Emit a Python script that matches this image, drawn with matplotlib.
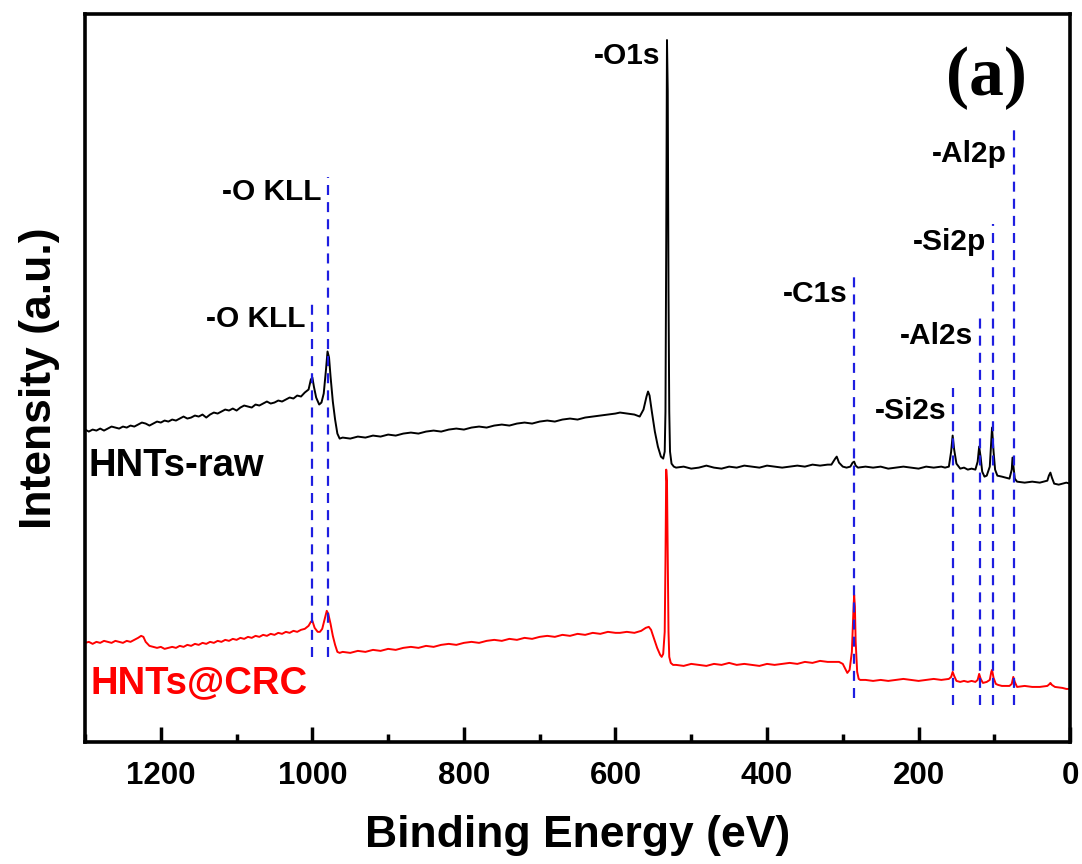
import matplotlib
matplotlib.use("Agg")
import matplotlib.pyplot as plt
from matplotlib.ticker import MultipleLocator

plt.rcParams['font.family'] = ['Liberation Sans', 'DejaVu Sans']
plt.rcParams['font.weight'] = 'bold'

# binding energy (eV) / intensity (a.u.)
raw_be = [1300, 1295, 1290, 1285, 1280, 1275, 1270, 1265, 1260, 1255, 1250, 1245,
          1240, 1235, 1230, 1225, 1220, 1215, 1210, 1205, 1200, 1195, 1190, 1185,
          1180, 1175, 1170, 1165, 1160, 1155, 1150, 1145, 1140, 1135, 1130, 1125,
          1120, 1115, 1110, 1105, 1100, 1095, 1090, 1085, 1080, 1075, 1070, 1065,
          1060, 1055, 1050, 1045, 1040, 1035, 1030, 1025, 1020, 1015, 1010, 1005,
          1002, 1000, 998, 995, 991, 988, 985, 982, 980, 978, 976, 973, 970, 967,
          964, 960, 950, 940, 930, 920, 910, 900, 890, 880, 870, 860, 850, 840,
          830, 820, 810, 800, 790, 780, 770, 760, 750, 740, 730, 720, 710, 700,
          690, 680, 670, 660, 650, 640, 630, 620, 610, 600, 594, 585, 575, 568,
          563, 559, 557, 555, 552, 548, 544, 540, 537, 535, 534, 533, 532, 531,
          530, 529, 528, 526, 523, 520, 510, 500, 490, 480, 470, 460, 450, 440,
          430, 420, 410, 400, 390, 380, 370, 360, 350, 340, 330, 320, 315, 310,
          308, 305, 300, 295, 290, 287, 285, 283, 280, 270, 260, 250, 240, 230,
          220, 210, 200, 190, 180, 170, 165, 160, 157, 155, 153, 150, 145, 140,
          135, 130, 125, 122, 120, 118, 116, 113, 110, 106, 104, 103, 101, 99,
          96, 90, 85, 80, 77, 76, 75, 73, 70, 60, 50, 40, 30, 28, 26, 24, 21,
          15, 10, 5, 0]
raw_int = [312, 310, 312, 311, 313, 311, 313, 315, 314, 313, 315, 314,
           316, 315, 317, 319, 318, 316, 318, 320, 319, 321, 320, 322,
           321, 323, 325, 323, 324, 326, 325, 327, 324, 327, 329, 328,
           330, 332, 331, 333, 331, 334, 336, 335, 334, 337, 336, 338,
           340, 338, 339, 341, 340, 342, 344, 343, 346, 345, 349, 352,
           362, 364, 355, 344, 337, 339, 348, 372, 390, 384, 365, 340, 322, 308,
           303, 304, 303, 305, 304, 306, 305, 307, 306, 308, 309, 308, 310, 311,
           310, 312, 313, 312, 314, 315, 314, 316, 317, 316, 318, 319, 318, 320,
           321, 320, 322, 323, 322, 324, 325, 326, 327, 328, 329, 328, 327, 325,
           332, 345, 350, 346, 330, 310, 295, 285, 283, 290, 330, 500, 701, 650,
           450, 330, 290, 278, 275, 274, 275, 273, 274, 276, 274, 273, 275, 274,
           276, 275, 274, 276, 275, 274, 275, 276, 275, 277, 276, 277, 277, 283,
           285, 279, 275, 274, 275, 279, 280, 276, 274, 275, 274, 275, 273, 274,
           275, 274, 273, 275, 274, 275, 274, 275, 290, 306, 292, 278, 273, 274,
           272, 273, 272, 280, 295, 284, 270, 265, 266, 275, 300, 314, 290, 272,
           266, 265, 264, 263, 272, 284, 277, 263, 260, 259, 260, 259, 261, 266, 269, 264, 258,
           257, 258, 259, 258]

crc_be = [1300, 1295, 1290, 1285, 1280, 1275, 1270, 1265, 1260, 1255, 1250, 1245,
          1240, 1235, 1230, 1226, 1223, 1220, 1215, 1210, 1205, 1200, 1195, 1190,
          1185, 1180, 1175, 1170, 1165, 1160, 1155, 1150, 1145, 1140, 1135, 1130,
          1125, 1120, 1115, 1110, 1105, 1100, 1095, 1090, 1085, 1080, 1075, 1070,
          1065, 1060, 1055, 1050, 1045, 1040, 1035, 1030, 1025, 1020, 1015, 1010,
          1005, 1002, 1000, 997, 993, 990, 987, 984, 981, 979, 976, 973, 970, 967,
          964, 960, 950, 940, 930, 920, 910, 900, 890, 880, 870, 860, 850, 840,
          830, 820, 810, 800, 790, 780, 770, 760, 750, 740, 730, 720, 710, 700,
          690, 680, 670, 660, 650, 640, 630, 620, 610, 600, 594, 585, 575, 566,
          560, 556, 553, 549, 545, 541, 539, 537, 535, 534, 533, 532, 531, 530,
          529, 527, 524, 520, 510, 500, 490, 480, 470, 460, 450, 440, 430, 420,
          410, 400, 390, 380, 370, 360, 350, 340, 330, 320, 313, 305, 300, 296,
          294, 291, 288, 286, 285, 284, 283, 281, 279, 277, 270, 260, 250, 240,
          230, 220, 210, 200, 190, 180, 170, 160, 157, 155, 153, 150, 145, 140,
          135, 130, 125, 122, 120, 118, 115, 110, 106, 104, 103, 101, 98, 95,
          90, 80, 77, 75, 73, 70, 60, 50, 40, 30, 27, 26, 24, 20, 10, 5, 0]
crc_int = [99, 100, 98, 100, 99, 101, 100, 99, 101, 100, 99, 101,
           100, 102, 104, 106, 105, 100, 96, 95, 94, 95, 93, 94,
           95, 94, 96, 95, 97, 96, 98, 97, 99, 98, 100, 99,
           101, 100, 102, 101, 103, 102, 104, 103, 105, 104, 106, 105,
           107, 106, 108, 107, 109, 108, 110, 109, 111, 110, 112, 113,
           116, 120, 121, 114, 110, 110, 113, 122, 131, 128, 118, 106, 97, 90,
           89, 90, 89, 91, 90, 92, 91, 93, 92, 94, 95, 94, 96, 95,
           97, 98, 97, 99, 100, 99, 101, 102, 101, 103, 102, 104, 103, 105,
           106, 105, 107, 106, 108, 107, 109, 108, 110, 109, 109, 110, 109, 111,
           114, 115, 112, 103, 94, 87, 85, 88, 110, 180, 272, 260, 180, 110,
           85, 79, 77, 77, 76, 78, 77, 76, 78, 77, 79, 77, 78, 77,
           76, 78, 77, 78, 79, 78, 80, 79, 81, 80, 80, 80, 78, 72,
           69, 72, 90, 130, 147, 135, 100, 70, 63, 62, 62, 61, 62, 61,
           62, 63, 62, 61, 62, 63, 62, 63, 65, 70, 66, 61, 60, 61,
           60, 61, 60, 62, 68, 63, 59, 60, 62, 70, 72, 64, 58, 57,
           56, 56, 58, 65, 60, 55, 56, 55, 55, 56, 58, 59, 57, 55, 54, 53, 53]

# peak markers: energy, dashed line bottom/top, label, label height
peak_names = ['-O KLL', '-O KLL', '-O1s', '-C1s', '-Si2s', '-Al2s', '-Si2p', '-Al2p']
peak_be = [1000, 979, 532, 285, 154.5, 119, 102, 74]
line_lo = [85, 85, None, 44, 37, 37, 37, 37]
line_hi = [439, 564, None, 470, 354, 427, 517, 611]
label_y = [422, 549, 685, 447, 331, 405, 499, 587]

fig = plt.figure(figsize=(10.82, 8.64), dpi=100)
ax = fig.add_axes([0.0786, 0.1412, 0.9104, 0.8426])

ax.plot(raw_be, raw_int, color='black', lw=1.4)
ax.plot(crc_be, crc_int, color='#ff0000', lw=1.4)

for name, be, lo, hi, ly in zip(peak_names, peak_be, line_lo, line_hi, label_y):
    if lo is not None:
        ax.plot([be, be], [lo, hi], color='#1e1ee0', lw=1.6,
                linestyle=(0, (4.5, 3.2)))
    ax.text(be + 9, ly, name, ha='right', va='center', fontsize=21.5,
            fontweight='bold')

ax.text(1296, 276, 'HNTs-raw', ha='left', va='center', fontsize=27.5,
        fontweight='bold', color='black')
ax.text(1293, 59, 'HNTs@CRC', ha='left', va='center', fontsize=27.5,
        fontweight='bold', color='#ff0000')
ax.text(0.915, 0.912, '(a)', transform=ax.transAxes, ha='center', va='center',
        fontsize=50, fontweight='bold', family='Liberation Serif')

ax.set_xlim(1300, 0)
ax.set_ylim(0, 727)
ax.xaxis.set_major_locator(MultipleLocator(200))
ax.xaxis.set_minor_locator(MultipleLocator(100))
ax.set_yticks([])
ax.tick_params(axis='x', which='major', direction='in', length=11, width=2.5,
               labelsize=22.5, pad=14)
ax.tick_params(axis='x', which='minor', direction='in', length=6, width=2.5)
for sp in ax.spines.values():
    sp.set_linewidth(2.6)

ax.set_xlabel('Binding Energy (eV)', fontsize=32, fontweight='bold', labelpad=17)
ax.set_ylabel('Intensity (a.u.)', fontsize=32, fontweight='bold', labelpad=18)

fig.savefig('out.png', dpi=100)
